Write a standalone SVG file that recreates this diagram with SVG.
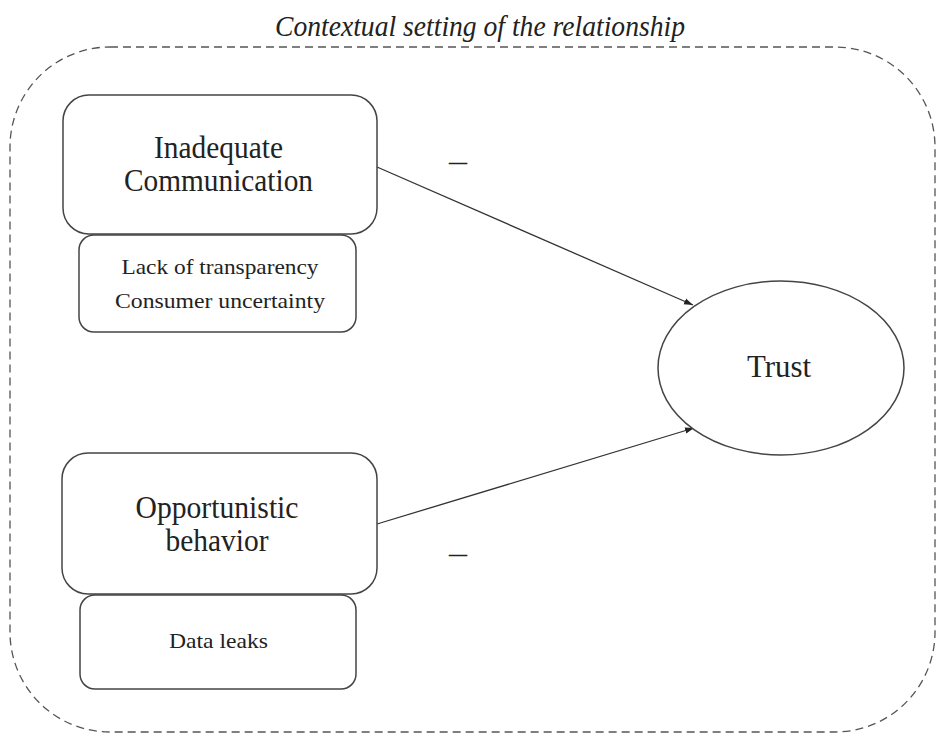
<svg xmlns="http://www.w3.org/2000/svg" width="938" height="734" viewBox="0 0 938 734">
<style>
.box{fill:#fff;stroke:#444;stroke-width:1.5}
.t{font-family:"Liberation Serif","Times New Roman",serif;fill:#222;text-anchor:middle}
.big{font-size:32px}
.small{font-size:22px}
.conn{stroke:#333;stroke-width:1.3;fill:none;marker-end:url(#ah)}
</style>
<defs>
<marker id="ah" viewBox="0 0 10 10" refX="10" refY="5" markerWidth="9" markerHeight="9" markerUnits="userSpaceOnUse" orient="auto">
<path d="M0,1.5 L10,5 L0,8.5 Z" fill="#222"/>
</marker>
</defs>
<rect width="938" height="734" fill="#fff"/>
<g id="context">
<rect x="10" y="47" width="925" height="685" rx="100" ry="100" fill="none" stroke="#555" stroke-width="1.3" stroke-dasharray="8,5"/>
<text class="t" x="480" y="36" font-size="30" font-style="italic" textLength="410" lengthAdjust="spacingAndGlyphs">Contextual setting of the relationship</text>
</g>
<g id="connectors">
<line class="conn" x1="377" y1="167" x2="693" y2="305"/>
<line class="conn" x1="377" y1="524" x2="694" y2="428"/>
<text class="t" x="458" y="161" font-size="30" fill="#555" textLength="18" lengthAdjust="spacingAndGlyphs">_</text>
<text class="t" x="458" y="553" font-size="30" fill="#555" textLength="18" lengthAdjust="spacingAndGlyphs">_</text>
</g>
<g id="inadequate">
<rect class="box" x="63" y="95" width="314" height="139" rx="26"/>
<text class="t big" x="218.5" y="158" textLength="129" lengthAdjust="spacingAndGlyphs">Inadequate</text>
<text class="t big" x="218.5" y="191" textLength="189" lengthAdjust="spacingAndGlyphs">Communication</text>
</g>
<g id="lack">
<rect class="box" x="79" y="235" width="277" height="97" rx="15"/>
<text class="t small" x="220" y="274" textLength="197" lengthAdjust="spacingAndGlyphs">Lack of transparency</text>
<text class="t small" x="220" y="308" textLength="210" lengthAdjust="spacingAndGlyphs">Consumer uncertainty</text>
</g>
<g id="opportunistic">
<rect class="box" x="62" y="453" width="315" height="141" rx="26"/>
<text class="t big" x="217" y="518" textLength="163" lengthAdjust="spacingAndGlyphs">Opportunistic</text>
<text class="t big" x="217" y="551" textLength="103" lengthAdjust="spacingAndGlyphs">behavior</text>
</g>
<g id="dataleaks">
<rect class="box" x="80" y="595" width="276" height="94" rx="15"/>
<text class="t small" x="218.5" y="648" textLength="99" lengthAdjust="spacingAndGlyphs">Data leaks</text>
</g>
<g id="trust">
<ellipse class="box" cx="781" cy="368" rx="123" ry="87"/>
<text class="t big" x="779" y="377" textLength="64" lengthAdjust="spacingAndGlyphs">Trust</text>
</g>
</svg>
